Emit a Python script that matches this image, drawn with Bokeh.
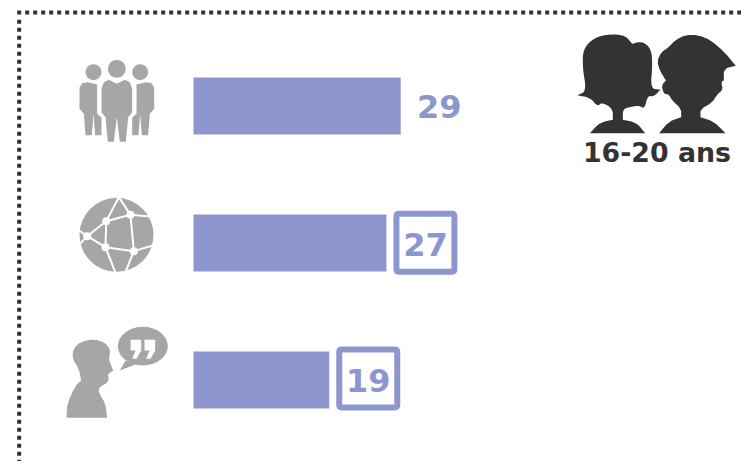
from bokeh.plotting import figure
from bokeh.models import Range1d
from bokeh.core.properties import value
from bokeh.embed import file_html
from bokeh.resources import INLINE

# ---- data ----
categories = ["Groupe", "Internet", "Parole"]
rows = [0, 1, 2]
values = [29, 27, 19]
labels = ["29", "27", "19"]
boxed = [False, True, True]
age_label = "16-20 ans"

BAR = "#8d97ce"
ICON = "#a6a6a6"
DARK = "#333333"

W, H = 741, 461
PX_PER_UNIT = 7.145
X0 = 193          # picture px of value 0
Y0, STEP = 105.5, 137  # picture px of first row and row spacing

p = figure(width=W, height=H, output_backend="svg", toolbar_location=None,
           x_range=Range1d(-X0 / PX_PER_UNIT, (W - X0) / PX_PER_UNIT),
           y_range=Range1d((H - Y0) / STEP, -Y0 / STEP),
           x_axis_location=None, y_axis_location=None,
           min_border=0, outline_line_color=None, background_fill_color="white",
           border_fill_color="white")
p.grid.visible = False
p.extra_x_ranges["px"] = Range1d(0, W)
p.extra_y_ranges["px"] = Range1d(H, 0)
PX = dict(x_range_name="px", y_range_name="px")

# dotted frame
p.line([16.7, W], [12, 12], line_color=DARK, line_width=4, line_dash="4 4", **PX)
p.line([18.7, 18.7], [19.3, H], line_color=DARK, line_width=4, line_dash="4 4", **PX)

# bars
p.hbar(y=rows, left=0, right=values, height=57 / STEP, fill_color=BAR, line_color=None)


def bar_end(v):
    return X0 + v * PX_PER_UNIT


# value labels and boxes
box_y = {1: 242.3, 2: 378}
for r, v, lab, b in zip(rows, values, labels, boxed):
    if b:
        left = bar_end(v) + 10
        cy = box_y[r]
        p.quad(left=[left], right=[left + 58], top=[cy - 29], bottom=[cy + 29],
               fill_color="white", line_color=BAR, line_width=6, line_join="round",
               border_radius=2, **PX)
        tx, ty = left + 29, cy + 1.5
    else:
        tx, ty = bar_end(v) + 38.5, Y0 + 0.5
    p.text([tx], [ty], text=[lab], text_font=value("DejaVu Sans"), text_font_style="bold",
           text_font_size="32px", text_color=BAR, text_align="center",
           text_baseline="middle", **PX)


def zm(pts, ox, oy):
    return [ox + x / 3 for x, y in pts], [oy + y / 3 for x, y in pts]


def smooth(pts, n=2):
    for _ in range(n):
        out = []
        for i in range(len(pts)):
            a, b = pts[i], pts[(i + 1) % len(pts)]
            out.append((0.75 * a[0] + 0.25 * b[0], 0.75 * a[1] + 0.25 * b[1]))
            out.append((0.25 * a[0] + 0.75 * b[0], 0.25 * a[1] + 0.75 * b[1]))
        pts = out
    return pts


def poly(pts, ox, oy, color, n=0):
    if n:
        pts = smooth(pts, n)
    xs, ys = zm(pts, ox, oy)
    p.patch(xs, ys, fill_color=color, line_color=None, **PX)


# people icon
for cx, cy, r in [(349, 205, 27), (279, 215, 24), (419, 215, 24)]:
    p.circle([cx / 3], [cy / 3], radius=r / 3, fill_color=ICON, line_color=None, **PX)
center = [(303, 265), (310, 245), (325, 238), (349, 250), (373, 238), (388, 245), (395, 265),
          (395, 335), (383, 350), (376, 424), (358, 424), (349, 350), (340, 424), (322, 424),
          (315, 350), (303, 335)]
side = [(237, 262), (245, 248), (262, 245), (290, 252), (290, 340), (303, 352), (303, 404),
        (284, 404), (279, 340), (274, 404), (255, 404), (250, 340), (237, 325)]
poly(center, 0, 0, ICON)
poly(side, 0, 0, ICON)
poly([(698 - x, y) for x, y in side], 0, 0, ICON)

# globe icon
OX2, OY2 = 50, 180
p.circle([OX2 + 198 / 3], [OY2 + 163 / 3], radius=37, fill_color=ICON, line_color=None, **PX)
nodes = [(110, 167), (167, 122), (240, 103), (165, 200), (250, 212)]
edges = [((110, 167), (167, 122)), ((167, 122), (240, 103)), ((240, 103), (205, 50)),
         ((205, 50), (167, 122)), ((240, 103), (297, 108)), ((240, 103), (250, 212)),
         ((167, 122), (165, 200)), ((110, 167), (165, 200)), ((165, 200), (250, 212)),
         ((250, 212), (307, 195)), ((250, 212), (225, 275)), ((165, 200), (195, 277)),
         ((110, 167), (86, 150)), ((110, 167), (88, 190))]
for a, b in edges:
    xs, ys = zm([a, b], OX2, OY2)
    p.line(xs, ys, line_color="white", line_width=2, **PX)
xs, ys = zm(nodes, OX2, OY2)
p.circle(xs, ys, radius=4, fill_color="white", line_color=None, **PX)

# speaking person icon
head = [(48, 712), (48, 712), (50, 670), (75, 615), (92, 600), (92, 600), (85, 565), (66, 535), (68, 505), (92, 483),
        (130, 476), (162, 485), (180, 508), (176, 530), (176, 540), (188, 570), (188, 570), (170, 583), (175, 590), (172, 606),
        (150, 618), (145, 625), (145, 637), (165, 670), (170, 712), (170, 712)]
poly(head, OX2, OY2, ICON, n=1)
p.ellipse([OX2 + 277 / 3], [OY2 + 497 / 3], width=150 / 3, height=116 / 3,
          fill_color=ICON, line_color=None, **PX)
poly([(225, 540), (208, 570), (255, 552)], OX2, OY2, ICON)
quote = [(240, 478), (272, 478), (272, 510), (258, 535), (245, 535), (255, 510), (240, 510)]
poly(quote, OX2, OY2, "white")
poly([(x + 42, y) for x, y in quote], OX2, OY2, "white")

# teen silhouettes
OX3, OY3 = 560, 20
girl = [(50, 224), (50, 224), (78, 212), (66, 140), (68, 85), (100, 52), (150, 40), (195, 45), (215, 70),
        (215, 70), (245, 62), (272, 85), (276, 130), (270, 205), (300, 207), (300, 207), (280, 228), (262, 225),
        (252, 265), (235, 255), (215, 258), (187, 265), (187, 298), (187, 298), (228, 306), (254, 338), (254, 338),
        (88, 338), (88, 338), (118, 306), (157, 298), (157, 298), (157, 265), (125, 245), (110, 258), (90, 232)]
boy = [(296, 338), (296, 338), (325, 303), (362, 290), (362, 290), (362, 265), (335, 240), (325, 222), (310, 220),
       (303, 195), (316, 180), (316, 180), (298, 150), (290, 122), (302, 95), (325, 80), (345, 58),
       (375, 44), (412, 43), (452, 60), (492, 95), (526, 136), (526, 136), (490, 145), (490, 180), (490, 180),
       (482, 184), (487, 208), (470, 222), (455, 246), (420, 266), (420, 290), (420, 290), (460, 303),
       (495, 338), (495, 338)]
poly(girl, OX3, OY3, DARK, n=2)
poly(boy, OX3, OY3, DARK, n=1)
p.text([656.5], [152], text=[age_label], text_font=value("DejaVu Sans"), text_font_style="bold",
       text_font_size="26.8px", text_color=DARK, text_align="center", text_baseline="middle", **PX)

open("out.html", "w").write(file_html(p, INLINE))
